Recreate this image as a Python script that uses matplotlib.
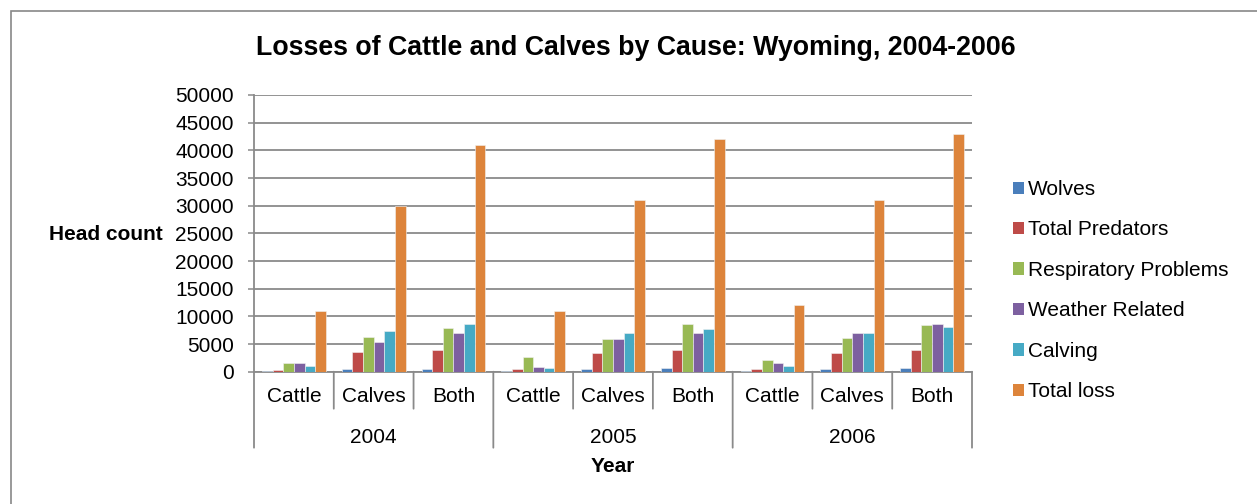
import matplotlib
matplotlib.use('Agg')
import matplotlib.pyplot as plt
from matplotlib.patches import Rectangle, Patch
import numpy as np

plt.rcParams['font.family'] = ['Liberation Sans', 'DejaVu Sans']

years = ['2004', '2005', '2006']
groups = ['Cattle', 'Calves', 'Both']

# one value per (year, group), in year order
wolves = [100, 400, 500, 100, 400, 600, 100, 500, 700]
total_predators = [300, 3500, 3900, 400, 3400, 3900, 400, 3400, 3900]
respiratory = [1500, 6300, 7900, 2600, 5900, 8700, 2100, 6100, 8400]
weather = [1600, 5300, 7000, 900, 5900, 7000, 1600, 7000, 8700]
calving = [1000, 7400, 8600, 700, 7000, 7800, 1000, 7000, 8000]
total_loss = [11000, 30000, 41000, 11000, 31000, 42000, 12000, 31000, 43000]

series = [
    ('Wolves', wolves, '#4A7EBB'),
    ('Total Predators', total_predators, '#BE4B48'),
    ('Respiratory Problems', respiratory, '#98B954'),
    ('Weather Related', weather, '#7D60A0'),
    ('Calving', calving, '#46AAC5'),
    ('Total loss', total_loss, '#DD843B'),
]

FS = 15
W, H = 1257, 504
fig = plt.figure(figsize=(W / 100, H / 100), dpi=100)

# outer chart frame
fig.patches.append(Rectangle((11 / W, -0.05), 1.1, 1 - 11 / H + 0.05, transform=fig.transFigure,
                             fill=False, edgecolor='#888888', linewidth=1.2))

ax = fig.add_axes([254 / W, (H - 371.7) / H, (972 - 254) / W, (371.7 - 95) / H])

n = len(wolves)
x = np.arange(n)
bw = 0.8 / len(series)
for i, (name, vals, color) in enumerate(series):
    ax.bar(x + (i - 2.5) * bw, vals, bw, color=color, edgecolor='#f2f2f2', linewidth=0.4,
           label=name, zorder=3)

ax.set_xlim(-0.5, n - 0.5)
ax.set_ylim(0, 50000)
ax.set_yticks(np.arange(0, 50001, 5000))
ax.yaxis.grid(True, color='#8a8a8a', linewidth=1.3, zorder=0)
ax.set_axisbelow(True)
for s in ['top', 'right']:
    ax.spines[s].set_visible(False)
for s in ['left', 'bottom']:
    ax.spines[s].set_color('#8a8a8a')
    ax.spines[s].set_linewidth(1.3)
ax.tick_params(axis='y', length=4.5, width=1.1, color='#8a8a8a', direction='out',
               labelsize=FS, pad=10)
ax.set_xticks([])

# multi-level category axis: short dividers between groups, long ones between years
xt = ax.get_xaxis_transform()
for k in range(n + 1):
    edge = k - 0.5
    depth = 76 if k % 3 == 0 else 37
    ax.annotate('', xy=(edge, 0), xycoords=xt, xytext=(0, -depth), textcoords='offset pixels',
                arrowprops=dict(arrowstyle='-', color='#8a8a8a', lw=1.3, shrinkA=0, shrinkB=0))
for k in range(n):
    ax.annotate(groups[k % 3], xy=(k, 0), xycoords=xt, xytext=(0, -25),
                textcoords='offset pixels', ha='center', va='center', fontsize=FS)
for j, yr in enumerate(years):
    ax.annotate(yr, xy=(3 * j + 1, 0), xycoords=xt, xytext=(0, -66),
                textcoords='offset pixels', ha='center', va='center', fontsize=FS)
ax.annotate('Year', xy=(0.5, 0), xycoords='axes fraction', xytext=(0, -95),
            textcoords='offset pixels', ha='center', va='center', fontsize=FS,
            fontweight='bold')

fig.text(106 / W, 1 - 234 / H, 'Head count', ha='center', va='center', fontsize=FS,
         fontweight='bold')
fig.text(636 / W, 1 - 48 / H, 'Losses of Cattle and Calves by Cause: Wyoming, 2004-2006',
         ha='center', va='center', fontsize=19.3, fontweight='bold')

handles = [Patch(facecolor=c, edgecolor='none') for _, _, c in series]
labels = [name for name, _, _ in series]
fig.legend(handles, labels, loc='upper left', bbox_to_anchor=(1013 / W, 1 - 180 / H),
           frameon=False, fontsize=FS, handlelength=0.52, handleheight=0.52,
           handletextpad=0.2, labelspacing=1.03, borderaxespad=0, borderpad=0)

fig.savefig('out.png', dpi=100)
